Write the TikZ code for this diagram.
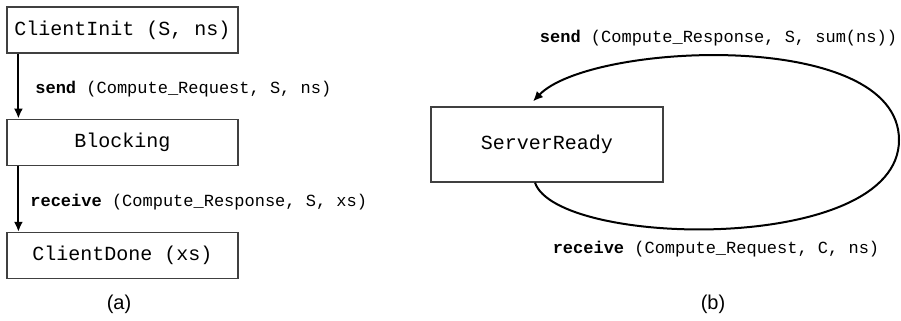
\documentclass[tikz,border=0pt]{standalone}
\usepackage{fontspec}
\setmonofont{Liberation Mono}
\setsansfont{Liberation Sans}
\usepackage{tikz}
\usetikzlibrary{positioning,arrows.meta}
\tikzstyle{sbox} = [draw=black!75, line width=0.6pt, inner sep=0pt, font=\ttfamily\fontsize{10}{12}\selectfont]
\tikzset{
  % node styles
  cstate/.style={sbox, minimum width=115.5pt, minimum height=23pt},
  sstate/.style={sbox, minimum width=116pt, minimum height=37.5pt},
  msg/.style={inner sep=0pt, font=\ttfamily\fontsize{8.5}{10}\selectfont},
  caption/.style={font=\sffamily\fontsize{10}{12}\selectfont},
  % edge styles
  flow/.style={line width=1pt, -{Latex[length=5pt,width=4.5pt]}},
}

\begin{document}
\begin{tikzpicture}[x=0.5pt,y=-0.5pt]
        \useasboundingbox (0,0) rectangle (901,321);
        % client side
        \node(init)[cstate] at (122.5,30) {ClientInit (S, ns)};
        \node(block)[cstate, below=32.5pt of init] {Blocking};
        \node(done)[cstate, below=33pt of block] {ClientDone (xs)};
        \draw[flow] ([xshift=6pt]init.south west) -- node[msg, right, xshift=8pt, yshift=-1.75pt]{\textbf{send} (Compute\_Request, S, ns)} ([xshift=6pt]block.north west);
        \draw[flow] ([xshift=6pt]block.south west) -- node[msg, right, xshift=5.5pt, yshift=-1.5pt]{\textbf{receive} (Compute\_Response, S, xs)} ([xshift=6pt]done.north west);
        \node(capa)[caption] at (119,304) {(a)};
        % server side
        \node(ready)[sstate] at (547,144.5) {ServerReady};
        \coordinate(turn) at (899,140);
        \draw[flow] ([xshift=-6pt]ready.south) .. controls +(22,65) and (899,255) .. (turn)
            .. controls (899,28) and (590,42) .. ([xshift=-7pt,yshift=2.5pt]ready.north);
        \node(sendlbl)[msg] at (718.5,38) {\textbf{send} (Compute\_Response, S, sum(ns))};
        \node(recvlbl)[msg] at (716,249) {\textbf{receive} (Compute\_Request, C, ns)};
        \node(capb)[caption] at (713,304) {(b)};
\end{tikzpicture}
\end{document}
